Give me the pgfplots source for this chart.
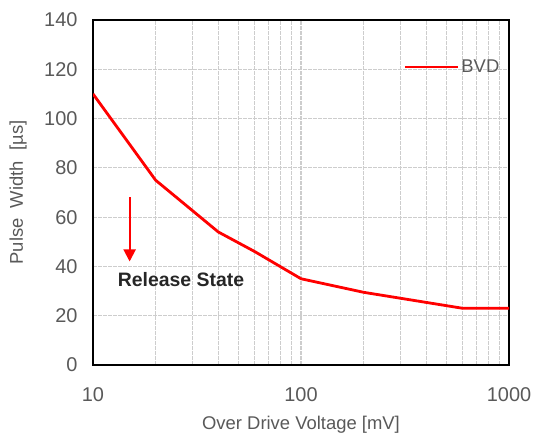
\documentclass[border=0pt]{standalone}
\usepackage{fontspec}
\setmainfont{Liberation Sans}
\usepackage{pgfplots}
\pgfplotsset{compat=1.18}
\usetikzlibrary{arrows.meta}
\definecolor{ticktxt}{RGB}{89,89,89}
\definecolor{gridc}{RGB}{205,205,205}
\begin{document}
\begin{tikzpicture}
\begin{axis}[
  name=ax,
  scale only axis,
  width=416bp, height=345bp,
  xmode=log,
  xmin=10, xmax=1000,
  ymin=0, ymax=140,
  ytick={0,20,...,140},
  xtick={10,100,1000},
  xticklabels={10,100,1000},
  minor xtick={20,30,40,50,60,70,80,90,200,300,400,500,600,700,800,900},
  grid=both,
  major grid style={dash pattern=on 4bp off 1bp, gridc, line width=1.1bp},
  minor grid style={dash pattern=on 4bp off 1bp, gridc, line width=1.1bp},
  major tick length=0pt, minor tick length=0pt,
  axis line style={black, line width=1.3bp},
  /pgf/number format/assume math mode=true,
  tick label style={font=\fontsize{20}{22}\selectfont, text=ticktxt},
  yticklabel style={xshift=-12bp},
  xticklabel style={yshift=-19bp},
  xlabel={Over Drive Voltage [mV]},
  ylabel={Pulse\ \ Width\ \ [µs]},
  label style={font=\fontsize{18.5}{22}\selectfont, text=ticktxt},
  xlabel style={at={(axis description cs:0.5,-0.174)}, anchor=center},
  ylabel style={at={(axis description cs:-0.18,0.5)}, anchor=center},
  legend style={draw=none, fill=none, at={(axis description cs:0.982,0.864)}, anchor=east, font=\fontsize{18.5}{22}\selectfont, text=ticktxt, inner sep=0pt},
  legend image code/.code={\draw[#1] (0bp,0bp) -- (53bp,0bp);},
]
\addplot[red, line width=2.8bp] coordinates {
  (10,110) (20,75) (40,54) (60,46) (100,35) (200,29.5) (600,23) (1000,23)
};
\addlegendentry{BVD}
\draw[color=red, line width=2bp, -{Triangle[width=12bp,length=12bp]}] (axis cs:15,68) -- (axis cs:15,42);
\node[font=\bfseries\fontsize{19.5}{22}\selectfont, text=black!85] at (axis cs:26.5,34.5) {Release State};
\end{axis}
\pgfresetboundingbox
\path (ax.south west) ++(-93bp,-76bp) rectangle ++(539bp,441bp);
\end{tikzpicture}
\end{document}
